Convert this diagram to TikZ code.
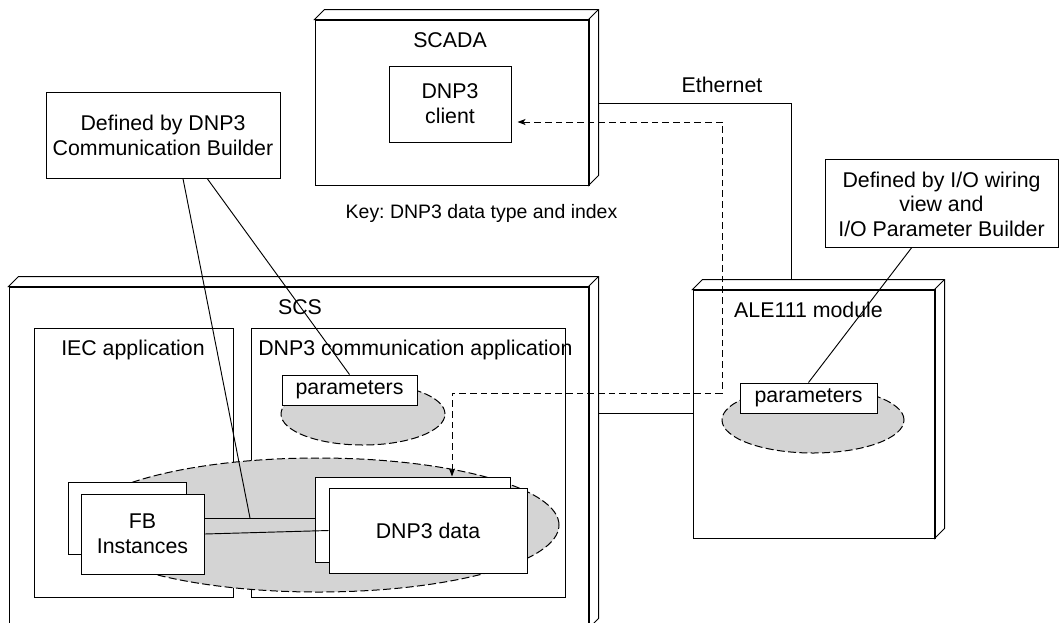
\documentclass[tikz,border=0pt]{standalone}
\usepackage{fontspec}
\setmainfont{Liberation Sans}
\usetikzlibrary{arrows.meta,shapes.geometric,fit,calc}
\frenchspacing

% Side and top faces of a UML-style 3D node, drawn around its front face
\newcommand\depthfaces[1]{%
  \draw[sideface] (#1.north west) -- ++(10,-10) -- ($(#1.north east)+(10,-10)$)
    -- ($(#1.south east)+(10,-10)$) -- (#1.south east) -- (#1.north east) -- cycle;
  \draw[sideface] (#1.north east) -- ++(10,-10);
  \draw[frontedge] (#1.north west) -- (#1.north east) -- (#1.south east);
}

\begin{document}
\begin{tikzpicture}[x=0.75pt,y=-0.75pt,
  every node/.style={font=\fontsize{16pt}{18.6pt}\selectfont},
  box/.style={draw, fill=white, line width=0.75pt, inner sep=0pt},
  frontface/.style={draw, fill=white, line width=0.75pt, inner sep=0pt},
  sideface/.style={draw, fill=white, line width=0.75pt, line join=miter},
  frontedge/.style={line width=1.5pt, line join=miter},
  blob/.style={ellipse, draw, fill=black!17, line width=0.75pt,
    dash pattern=on 6pt off 2.5pt, inner sep=0pt},
  link/.style={line width=0.7pt},
  flow/.style={line width=0.75pt, dash pattern=on 5pt off 3pt,
    {Stealth[length=6pt,width=4.5pt,inset=1.5pt]}-{Stealth[length=6pt,width=4.5pt,inset=1.5pt]}},
  txt/.style={inner sep=0pt, align=center}
]
\useasboundingbox (0,0) rectangle (1059,622);
\clip (0,0) rectangle (1059,622);

% ---------- SCADA node ----------
\node[frontface, fit={(315,20) (588,185)}] (scada) {};
\depthfaces{scada}
\node[txt] (scadatitle) at (450,40) {SCADA};
\node[box, fit={(389,66) (511,142)}] (client) {};
\node[txt] (clienttext) at (client.center) {DNP3\\client};
\node[txt, font=\fontsize{14.6pt}{17pt}\selectfont] (key) at (481.5,213) {Key: DNP3 data type and index};

% ---------- SCS node ----------
\node[frontface, fit={(9,287) (588,628)}] (scs) {};
\depthfaces{scs}
\node[txt] (scstitle) at (300,307) {SCS};

\node[box, fit={(34,328) (233,597)}] (iec) {};
\node[txt] (iectitle) at (133,350) {IEC application};
\node[box, fit={(251,328) (565,597)}] (dnpapp) {};
\node[txt, anchor=west] (dnpapptitle) at (258,350) {DNP3 communication application};

% grey groupings
\node[blob, minimum width=123pt, minimum height=46.5pt] (pblob) at (363,414) {};
\node[blob, minimum width=361.5pt, minimum height=100.5pt] (dblob) at (318,525) {};

\node[box, fit={(282,375) (417,405)}] (scsparams) {};
\node[txt] (scsparamstext) at (scsparams.center) {parameters};

\node[box, fit={(68,482) (186,554)}] (fbback) {};
\node[box, fit={(81,494) (204,574)}] (fbfront) {};
\node[txt] (fbtext) at (fbfront.center) {FB\\Instances};

\node[box, fit={(315,477) (510,562)}] (databack) {};
\node[box, fit={(329,488) (527,573)}] (datafront) {};
\node[txt] (datatext) at (datafront.center) {DNP3 data};

% ---------- ALE111 node ----------
\node[frontface, fit={(693,290) (934,538)}] (ale) {};
\depthfaces{ale}
\node[txt] (aletitle) at (808.5,310) {ALE111 module};
\node[blob, minimum width=136.5pt, minimum height=49.5pt] (ablob) at (813,420) {};
\node[box, fit={(740,383) (877,413)}] (aleparams) {};
\node[txt] (aleparamstext) at (aleparams.center) {parameters};

% ---------- notes ----------
\node[box, fit={(46,92) (280,178)}] (defdnp) {};
\node[txt] (defdnptext) at (defdnp.center) {Defined by DNP3\\Communication Builder};
\node[box, fit={(825,159) (1058,247)}] (defio) {};
\node[txt] (defiotext) at ([yshift=-1pt]defio.center) {Defined by I/O wiring\\view and\\I/O Parameter Builder};

% ---------- connectors ----------
\coordinate (tap) at (250,518);
\draw[link] (fbfront.east |- tap) -- (databack.west |- tap);
\draw[link] (fbfront.east) -- (datafront.west);

\draw[link] ($(defdnp.south west)!0.585!(defdnp.south east)$) -- (tap);
\draw[link] ($(defdnp.south west)!0.688!(defdnp.south east)$) -- (scsparams.north);
\draw[link] ($(defio.south west)!0.373!(defio.south east)$) -- (aleparams.north);

% Ethernet between SCADA and the module
\coordinate (ethA) at (598,103);
\coordinate (ethB) at (791,103);
\coordinate (ethC) at (791,280);
\draw[link] (ethA) -- (ethB) -- (ethC);
\node[txt] (ethlabel) at (722,85) {Ethernet};

% backplane link between SCS and the module
\coordinate (busA) at (598,413);
\draw[link] (busA) -- (ale.west |- busA);

% data exchange path
\coordinate (f1) at (452,393);
\coordinate (f2) at (722,393);
\coordinate (f3) at (722,122);
\draw[flow] (databack.north -| f1) -- (f1) -- (f2) -- (f3) -- ([xshift=4.5pt]client.east |- f3);

\end{tikzpicture}
\end{document}
